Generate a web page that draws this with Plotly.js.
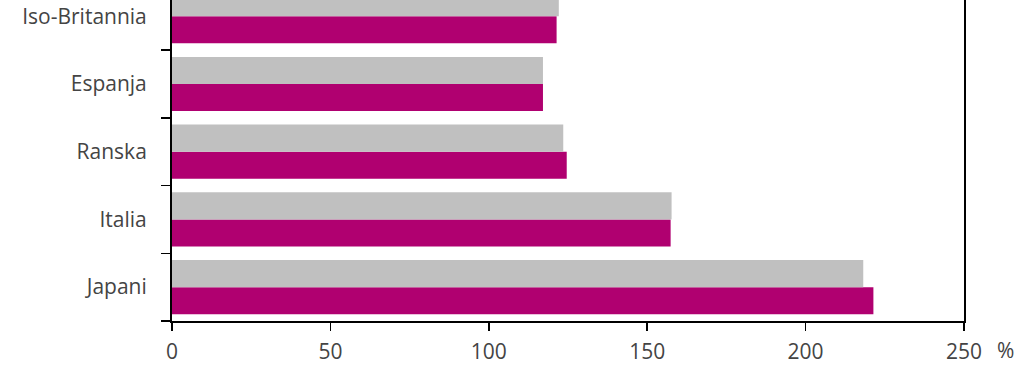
<!DOCTYPE html>
<html>
<head>
<meta charset="utf-8">
<script src="https://cdn.plot.ly/plotly-3.0.1.min.js"></script>
<style>html,body{margin:0;padding:0;background:#fff;}#chart{width:1024px;height:381px;}</style>
</head>
<body>
<div id="chart"></div>
<script>
var categories = ["Japani", "Italia", "Ranska", "Espanja", "Iso-Britannia"];
var seriesMagenta = [221.4, 157.4, 124.6, 117.1, 121.4];
var seriesGray = [218.2, 157.7, 123.5, 117.1, 122.1];
var xTicks = [0, 50, 100, 150, 200, 250];

var fontFam = "'Open Sans', 'DejaVu Sans', sans-serif";
var txtColor = "#444";
var traces = [
  {type: "bar", orientation: "h", y: categories, x: seriesMagenta, name: "A",
   marker: {color: "#b00070"}, hoverinfo: "x"},
  {type: "bar", orientation: "h", y: categories, x: seriesGray, name: "B",
   marker: {color: "#c0c0c0"}, hoverinfo: "x"}
];
var layout = {
  width: 1024, height: 381,
  margin: {l: 172, r: 60, t: 0, b: 60, pad: 0},
  paper_bgcolor: "#fff", plot_bgcolor: "#fff",
  barmode: "group", bargap: 0.2, bargroupgap: 0,
  showlegend: false,
  font: {family: fontFam, size: 21, color: txtColor},
  xaxis: {
    range: [0, 250], tickvals: xTicks, ticktext: xTicks.map(String),
    showgrid: false, zeroline: false,
    showline: true, linecolor: "#000", linewidth: 2, mirror: false,
    ticks: "outside", ticklen: 8, tickwidth: 1.5, tickcolor: "#000",
    ticklabelstandoff: 3,
    tickfont: {family: fontFam, size: 21, color: txtColor}
  },
  yaxis: {
    type: "category", range: [-0.5, 4.24],
    showgrid: false, zeroline: false,
    showline: true, linecolor: "#000", linewidth: 2, mirror: true,
    ticks: "outside", ticklen: 9, tickwidth: 1.5, tickcolor: "#000",
    tickson: "boundaries", ticklabelstandoff: 19,
    tickfont: {family: fontFam, size: 21, color: txtColor}
  },
  annotations: [
    {text: "%", xref: "paper", yref: "paper", x: 1.052, y: -0.09, xanchor: "center", yanchor: "middle",
     showarrow: false, font: {family: fontFam, size: 21, color: txtColor}}
  ]
};
Plotly.newPlot("chart", traces, layout, {displayModeBar: false, staticPlot: true});
</script>
</body>
</html>
